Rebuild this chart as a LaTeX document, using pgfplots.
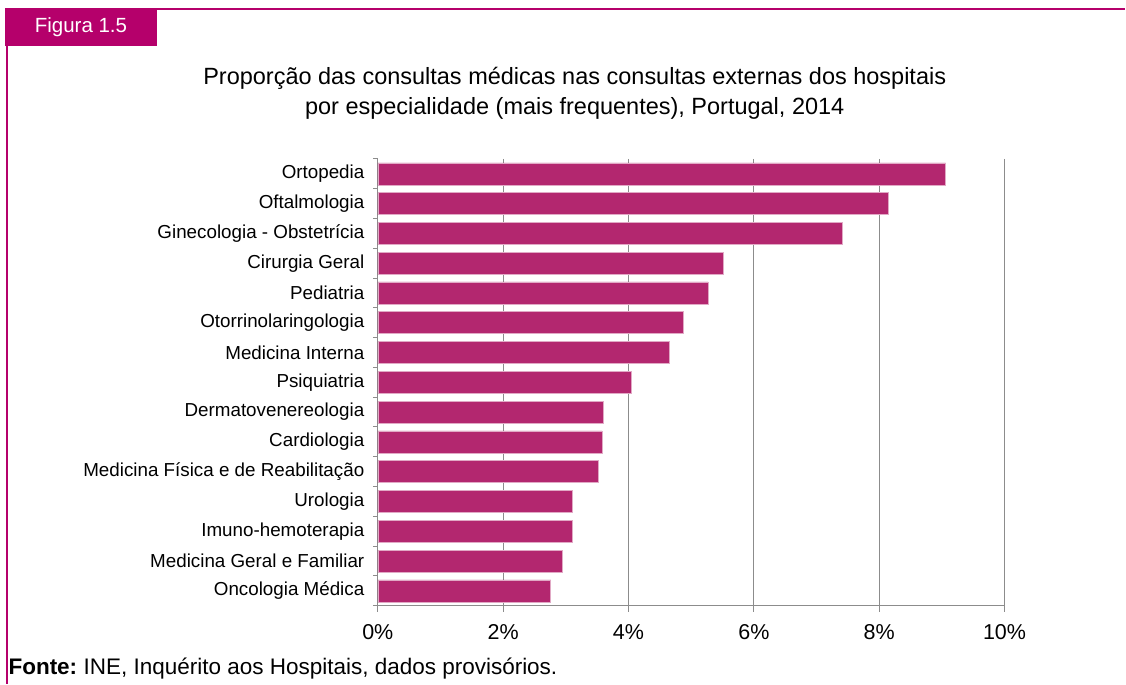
\documentclass[border=0pt]{standalone}
\usepackage{fontspec}
\setmainfont{Liberation Sans}
\usepackage{pgfplots}
\pgfplotsset{compat=1.18}
\definecolor{barc}{RGB}{179,39,111}
\definecolor{mag}{RGB}{181,0,107}
\definecolor{gridc}{RGB}{140,140,140}
\begin{document}
\begin{tikzpicture}
\path (0pt,0pt) rectangle (1126pt,684pt);
\fill[mag] (5pt,638pt) rectangle (157pt,675.5pt);
\node[white,font=\fontsize{20.5}{24}\selectfont] at (81pt,656.5pt) {Figura 1.5};
\draw[mag,line width=1.1pt] (157pt,675pt) -- (1126pt,675pt);
\draw[mag,line width=1.1pt] (7pt,638pt) -- (7pt,0pt);
\node[align=center,font=\fontsize{23.5}{30}\selectfont] at (575pt,591pt) {Proporção das consultas médicas nas consultas externas dos hospitais\\por especialidade (mais frequentes), Portugal, 2014};
\begin{axis}[at={(378pt,78pt)}, anchor=south west, width=627pt, height=447pt, scale only axis,
  xmin=0, xmax=10, ymin=-0.5, ymax=14.5, y dir=reverse,
  xbar, bar width=22pt, bar shift=0pt,
  xtick={0,2,4,6,8,10}, xticklabels={0\%,2\%,4\%,6\%,8\%,10\%},
  xmajorgrids, grid style={gridc, line width=1pt},
  axis x line*=bottom, axis y line*=left,
  axis line style={gridc, line width=1pt, -},
  tick align=outside, major tick length=6pt, minor tick length=5pt,
  tick style={gridc, line width=1pt},
  ytick={0,...,14},
  yticklabels={Ortopedia,Oftalmologia,Ginecologia - Obstetrícia,Cirurgia Geral,Pediatria,Otorrinolaringologia,Medicina Interna,Psiquiatria,Dermatovenereologia,Cardiologia,Medicina Física e de Reabilitação,Urologia,Imuno-hemoterapia,Medicina Geral e Familiar,Oncologia Médica},
  every major y tick/.style={draw=none},
  minor ytick={-0.5,0.5,...,14.5},
  xticklabel style={font=\fontsize{21.5}{24}\selectfont, yshift=-9pt},
  yticklabel style={font=\fontsize{18.8}{22}\selectfont, xshift=-4pt},
]
\addplot[fill=barc, draw=barc!40!white, line width=0.6pt] coordinates {
(9.06,0) (8.15,1) (7.41,2) (5.52,3) (5.27,4) (4.88,5) (4.65,6) (4.04,7)
(3.60,8) (3.58,9) (3.52,10) (3.10,11) (3.10,12) (2.94,13) (2.76,14)};
\end{axis}
\node[anchor=west,font=\fontsize{22.5}{26}\selectfont] at (5pt,15pt) {\textbf{Fonte:}\hspace{-2pt} INE, Inquérito aos Hospitais, dados provisórios.};
\end{tikzpicture}
\end{document}
